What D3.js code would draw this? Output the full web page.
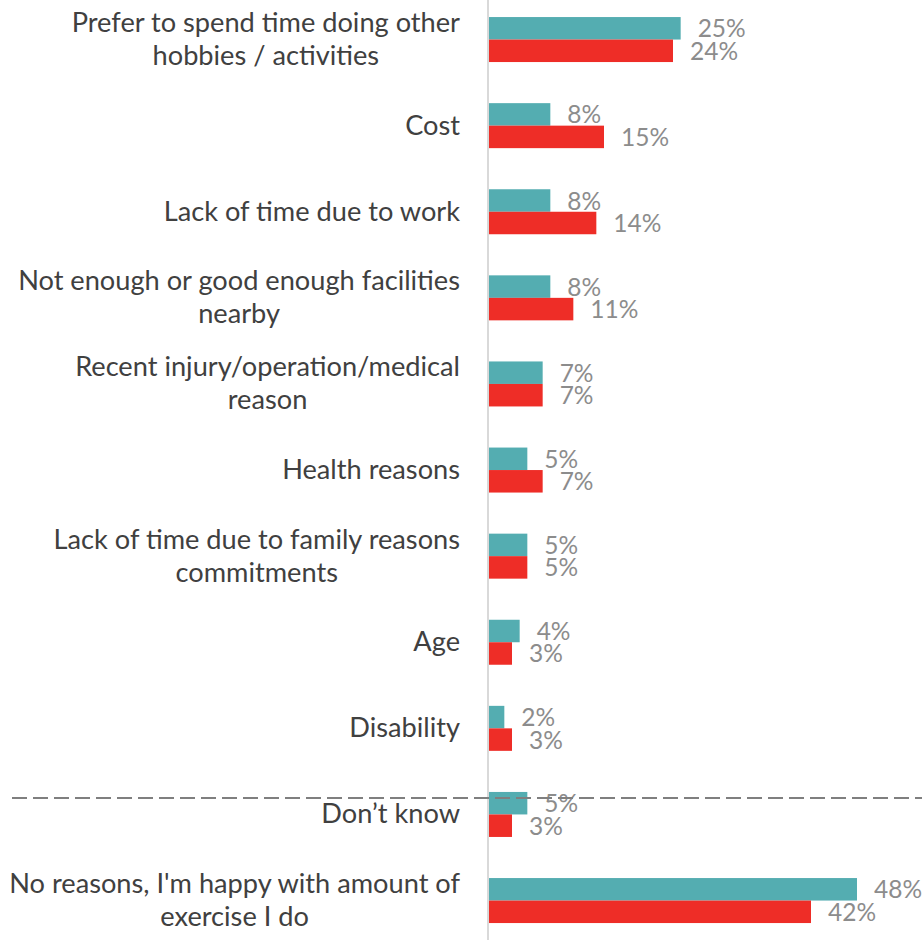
<!DOCTYPE html>
<html>
<head>
<meta charset="utf-8">
<script src="https://cdn.jsdelivr.net/npm/d3@7"></script>
<style>
  html, body { margin: 0; padding: 0; background: #fff; }
  svg { display: block; }
</style>
</head>
<body>
<div id="chart"></div>
<script>
// Reasons for not exercising more, two survey waves
const categories = [
  "Prefer to spend time doing other\nhobbies / activities",
  "Cost",
  "Lack of time due to work",
  "Not enough or good enough facilities\nnearby",
  "Recent injury/operation/medical\nreason",
  "Health reasons",
  "Lack of time due to family reasons\ncommitments",
  "Age",
  "Disability",
  "Don\u2019t know",
  "No reasons, I'm happy with amount of\nexercise I do"
];
const seriesNames = ["Wave A", "Wave B"];
const waveA = [25, 8, 8, 8, 7, 5, 5, 4, 2, 5, 48];
const waveB = [24, 15, 14, 11, 7, 7, 5, 3, 3, 3, 42];
const seriesColors = ["#54adb1", "#ee2d27"];

const W = 922, H = 940;
const svg = d3.select("#chart").append("svg")
  .attr("width", W).attr("height", H);

const x = d3.scaleLinear().domain([0, 48]).range([489, 857]);
const y0 = d3.scaleBand().domain(categories)
  .range([-3.5, 943.6]).paddingInner(0.4774).paddingOuter(0.2387);
const y1 = d3.scaleBand().domain(seriesNames).range([0, y0.bandwidth()]);

const rows = categories.map((c, i) => ({
  cat: c,
  vals: [
    { s: seriesNames[0], v: waveA[i] },
    { s: seriesNames[1], v: waveB[i] }
  ]
}));

// vertical axis line
svg.append("line")
  .attr("x1", 488).attr("x2", 488)
  .attr("y1", 0).attr("y2", H)
  .attr("stroke", "#d9d9d9").attr("stroke-width", 2);

const groups = svg.selectAll("g.grp").data(rows).join("g")
  .attr("class", "grp")
  .attr("transform", d => `translate(0,${y0(d.cat)})`);

groups.selectAll("rect").data(d => d.vals).join("rect")
  .attr("x", x(0))
  .attr("y", d => y1(d.s))
  .attr("width", d => x(d.v) - x(0))
  .attr("height", y1.bandwidth())
  .attr("fill", (d, i) => seriesColors[i]);

groups.selectAll("text.val").data(d => d.vals).join("text")
  .attr("class", "val")
  .attr("x", d => x(d.v) + 17)
  .attr("y", d => y1(d.s) + y1.bandwidth() / 2 + 9)
  .attr("font-family", "Lato, 'Open Sans', sans-serif")
  .attr("font-size", 24.5)
  .attr("fill", "#8c8c8c")
  .text(d => d.v + "%");

// category labels: block right-aligned at the axis, lines centred in the block
const labelRight = 460;
const labels = svg.selectAll("text.cat").data(categories).join("text")
  .attr("class", "cat")
  .attr("text-anchor", "middle")
  .attr("font-family", "Lato, 'Open Sans', sans-serif")
  .attr("font-size", 27.2)
  .attr("fill", "#404040");

labels.each(function(c) {
  const lines = c.split("\n");
  const cy = y0(c) + y0.bandwidth() / 2;
  const lh = 33;
  const t = d3.select(this);
  const spans = lines.map((ln, i) => t.append("tspan")
    .attr("y", cy + 9 + (i - (lines.length - 1) / 2) * lh)
    .text(ln));
  const maxW = d3.max(spans, s => s.node().getComputedTextLength());
  spans.forEach(s => s.attr("x", labelRight - maxW / 2));
});

// dashed separator above the non-reason answers
const sepY = y0(categories[9]) + 6;
svg.append("line")
  .attr("x1", 12).attr("x2", W)
  .attr("y1", sepY).attr("y2", sepY)
  .attr("stroke", "#7f7f7f").attr("stroke-width", 2)
  .attr("stroke-dasharray", "15,6");
</script>
</body>
</html>
